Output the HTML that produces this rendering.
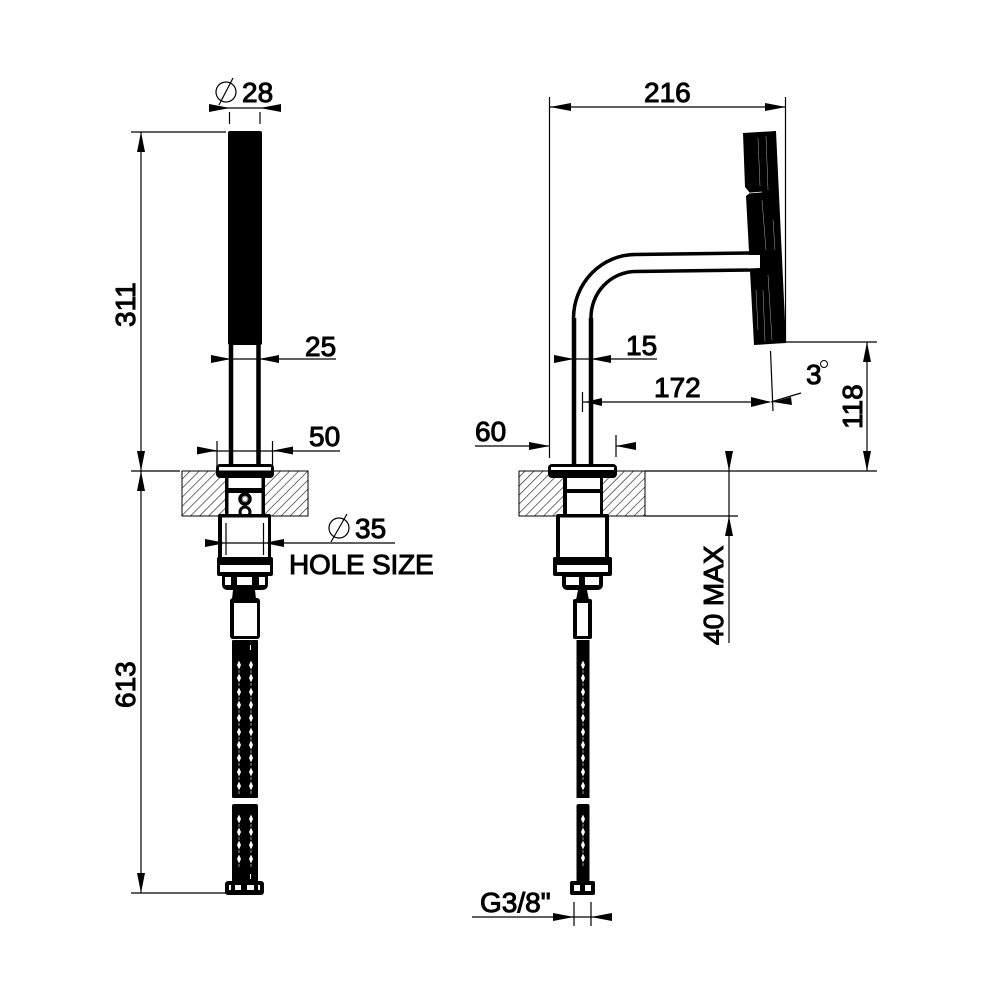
<!DOCTYPE html>
<html><head><meta charset="utf-8"><style>
html,body{margin:0;padding:0;background:#fff;width:1000px;height:1000px;overflow:hidden}
svg{display:block}
text{font-family:"Liberation Sans",sans-serif;font-size:28px;font-weight:400;fill:#000;stroke:#000;stroke-width:1}
.d{stroke:#000;stroke-width:1.2;fill:none}
.a{fill:#000}
.w{fill:#fff}
</style></head><body>
<svg width="1000" height="1000" viewBox="0 0 1000 1000">
<defs>
<pattern id="h" width="6.400" height="6.400" patternUnits="userSpaceOnUse" patternTransform="rotate(45)">
<rect width="6.400" height="6.400" fill="#fff"/><line x1="0" y1="0" x2="0" y2="6.400" stroke="#222" stroke-width="1.300"/>
</pattern>
<g id="mark"><path d="M0 -4.500L2 0 0 4.500 -2 0Z" fill="#fff"/><rect x="-.5" y="5" width="1" height="3" fill="#999"/></g>
</defs>

<!-- dimension lines left -->
<path class="d" d="M131 132H226M131 471H180M131 893H226M141 132V893"/>
<path class="a" d="M141 132l-4 20h8zM141 471l-4 -20h8zM141 471l-4 20h8zM141 893l-4 -20h8z"/>
<path class="d" d="M209 108H281M229.500 112V124M260 112V124"/>
<path class="a" d="M230 108l-21 -4v8zM260 108l21 -4v8z"/>
<circle class="d" cx="226" cy="92" r="10"/><path class="d" d="M219 105L233 78"/>
<text x="242" y="102">28</text>
<text x="305" y="356">25</text>
<path class="d" d="M212 359H336"/>
<path class="a" d="M231 359l-20 -4v8zM259 359l20 -4v8z"/>
<text x="309" y="446">50</text>
<path class="d" d="M198 451H340M217 441V478M272.500 441V478"/>
<path class="a" d="M217 450.500l-20 -4v8zM273 450.500l20 -4v8z"/>
<text transform="translate(135 327) rotate(-90)">311</text>
<text transform="translate(135 708) rotate(-90)">613</text>

<!-- left view -->
<rect x="182" y="471" width="126" height="45" fill="url(#h)" stroke="#000" stroke-width="1"/>
<rect x="228" y="131" width="34" height="214" rx="2" fill="#000"/>
<path d="M231 345V466M258.500 345V466" stroke="#000" stroke-width="4.500" fill="none"/>
<rect x="225" y="474" width="40" height="42" class="a"/>
<rect x="228.500" y="478" width="33" height="10" class="w"/>
<rect x="228.500" y="493" width="33" height="22" class="w"/>
<circle cx="245" cy="499" r="5" fill="#fff" stroke="#000" stroke-width="3.500"/>
<circle cx="245" cy="499" r="2.500" fill="none" stroke="#777" stroke-width=".8"/>
<circle cx="245" cy="512" r="5" fill="#fff" stroke="#000" stroke-width="3"/>
<rect x="216" y="464" width="58" height="14" rx="4" class="a"/>
<rect x="219" y="467" width="52" height="3.500" class="w"/>
<rect x="218" y="514" width="53" height="46" rx="2" class="a"/>
<rect x="222" y="517.500" width="46" height="40" class="w"/>
<path class="d" d="M226 523V555M263.500 523V555"/>
<rect x="217" y="557" width="56" height="19" rx="2" class="a"/>
<rect x="220" y="565" width="50" height="7" class="w"/>
<path class="a" d="M222 575H268V584Q268 590 262 590H228Q222 590 222 584Z"/>
<path class="w" d="M225 577h6v8h-6zM237 577h15v8h-15zM259 577h6v8h-6z"/>
<path class="a" d="M233 590H255L256 599H232Z"/>
<rect x="230" y="598" width="30" height="41" rx="3" class="a"/>
<rect x="234" y="603" width="23" height="33" class="w"/>
<rect x="232" y="640" width="26" height="158" rx="1" class="a"/>
<rect x="232" y="804" width="26" height="78" rx="2" class="a"/>
<rect x="250" y="645" width="1" height="5" fill="#fff"/>
<rect x="250" y="874" width="1" height="5" fill="#fff"/>
<g>
<use href="#mark" x="239" y="665"/><use href="#mark" x="251" y="665"/>
<use href="#mark" x="239" y="678"/><use href="#mark" x="251" y="678"/>
<use href="#mark" x="239" y="692"/><use href="#mark" x="251" y="692"/>
<use href="#mark" x="239" y="705"/><use href="#mark" x="251" y="705"/>
<use href="#mark" x="239" y="718"/><use href="#mark" x="251" y="718"/>
<use href="#mark" x="239" y="732"/><use href="#mark" x="251" y="732"/>
<use href="#mark" x="239" y="745"/><use href="#mark" x="251" y="745"/>
<use href="#mark" x="239" y="758"/><use href="#mark" x="251" y="758"/>
<use href="#mark" x="239" y="772"/><use href="#mark" x="251" y="772"/>
<use href="#mark" x="239" y="786"/><use href="#mark" x="251" y="786"/>
<use href="#mark" x="239" y="819"/><use href="#mark" x="251" y="819"/>
<use href="#mark" x="239" y="832"/><use href="#mark" x="251" y="832"/>
<use href="#mark" x="239" y="845"/><use href="#mark" x="251" y="845"/>
<use href="#mark" x="239" y="859"/><use href="#mark" x="251" y="859"/>
</g>
<rect x="225" y="881" width="39" height="14" rx="3" class="a"/>
<path class="w" d="M229 885h2v5h-2zM235 885h6v5h-6zM247 885h7v5h-7zM258 885h2v5h-2z"/>

<!-- 35 hole size -->
<circle class="d" cx="339" cy="528" r="10"/><path class="d" d="M331 542L347 514"/>
<text x="355" y="538">35</text>
<path class="d" d="M206 543H395"/>
<path class="a" d="M226 543l-21 -4v8zM264 543l20 -4v8z"/>
<text x="289" y="574" style="letter-spacing:-.2px">HOLE SIZE</text>

<!-- right view dims -->
<path class="d" d="M549.500 97V458M785.500 97V343M550 107H786"/>
<path class="a" d="M550 107l21 -4v8zM786 107l-21 -4v8z"/>
<text x="644" y="102">216</text>
<text x="626" y="355">15</text>
<path class="d" d="M554 359H657"/>
<path class="a" d="M574 359l-20 -4v8zM591 359l20 -4v8z"/>
<text x="654" y="397">172</text>
<path class="d" d="M582.500 392V412M583 402H770M770.500 351L773 411M771 402L801 393"/>
<path class="a" d="M585 402l17 -4v8zM771 402l-20 -5v10zM773 402l18 -5 1 8z"/>
<text x="806" y="384">3</text>
<circle cx="824" cy="364" r="3.500" fill="none" stroke="#000" stroke-width="1"/>
<text x="475" y="441">60</text>
<path class="d" d="M475 446H550M616 435V457M616 446H636"/>
<path class="a" d="M550 446l-21 -4v8zM616 446l20 -4v8z"/>
<path class="d" d="M786 342H877M645 471H877M645 516H738M867 342V471M729 451V643"/>
<path class="a" d="M867 342l-4 20h8zM867 471l-4 -20h8zM729 471l-4 -20h8zM729 516l-4 20h8z"/>
<text transform="translate(862 429) rotate(-90)">118</text>
<text transform="translate(723 645) rotate(-90)">40 MAX</text>

<!-- right view -->
<rect x="519" y="471" width="126" height="45" fill="url(#h)" stroke="#000" stroke-width="1"/>
<path d="M743 133L776 131L786 343L754 345L746 196L750 193L745 187Z" fill="#000"/>
<path d="M750 193L762 192" stroke="#fff" stroke-width=".8" fill="none"/>
<path d="M758 138L760 186M766 136L768 190M762 200L766 250M768 275L772 340M773 220L775 250M763 290L765 342M756 290L758 330" stroke="#aaa" stroke-width=".5" fill="none"/>
<path d="M573.500 318A62 64 0 0 1 635 254.500L750 253" stroke="#000" stroke-width="3.500" fill="none"/>
<path d="M591 318A45 46 0 0 1 635 271.500L750 270" stroke="#000" stroke-width="3.500" fill="none"/>
<path d="M748 255L760 255V268L748 268.500Z" fill="#fff"/>
<path d="M574 318V466M591 318V466" stroke="#000" stroke-width="4.500" fill="none"/>
<rect x="563" y="474" width="40" height="42" class="a"/>
<rect x="567" y="478" width="33" height="11" class="w"/>
<rect x="567" y="493" width="33" height="21" class="w"/>
<rect x="548" y="464" width="69" height="14" rx="4" class="a"/>
<rect x="551" y="467" width="63" height="3" class="w"/>
<rect x="556" y="514" width="53" height="46" rx="2" class="a"/>
<rect x="560" y="517.500" width="45" height="40" class="w"/>
<rect x="553" y="557" width="59" height="19" rx="2" class="a"/>
<rect x="557" y="565" width="51" height="7" class="w"/>
<path class="a" d="M562 575H603V584Q603 590 597 590H568Q562 590 562 584Z"/>
<path class="w" d="M566 577h13v8h-13zM585 577h14v8h-14z"/>
<path class="a" d="M578 590H587L589 600H576Z"/>
<rect x="573" y="599" width="19" height="40" rx="2" class="a"/>
<rect x="577" y="603" width="11" height="33" class="w"/>
<rect x="576.500" y="640" width="13" height="158" class="a"/>
<rect x="576.500" y="804" width="13" height="78" rx="2" class="a"/>
<g>
<use href="#mark" x="583" y="665"/><use href="#mark" x="583" y="678"/><use href="#mark" x="583" y="692"/><use href="#mark" x="583" y="705"/><use href="#mark" x="583" y="718"/><use href="#mark" x="583" y="732"/><use href="#mark" x="583" y="745"/><use href="#mark" x="583" y="758"/><use href="#mark" x="583" y="772"/><use href="#mark" x="583" y="786"/>
<use href="#mark" x="583" y="819"/><use href="#mark" x="583" y="832"/><use href="#mark" x="583" y="845"/><use href="#mark" x="583" y="858"/>
</g>
<rect x="570" y="881" width="25" height="14" rx="2" class="a"/>
<path class="w" d="M574 885h6v6h-6zM585 885h6v6h-6z"/>
<text x="480" y="912">G3/8"</text>
<path class="d" d="M472 917H612M574 902V926M591 902V926"/>
<path class="a" d="M574 917l-21 -4v8zM591 917l21 -4v8z"/>
</svg>
</body></html>
